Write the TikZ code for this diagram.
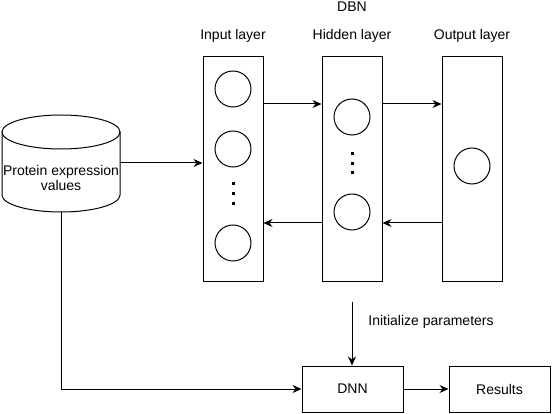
\documentclass[tikz,border=0pt]{standalone}
\usepackage{fontspec}
\setmainfont{Liberation Sans}
\usetikzlibrary{arrows.meta}
\begin{document}
\begin{tikzpicture}[x=1pt,y=-1pt,
  every node/.style={font=\fontsize{14}{16}\selectfont},
  line/.style={line width=1pt, draw=black},
  arr/.style={line width=1pt, -{Stealth[length=9pt,width=8pt,inset=3pt]}},
  layer/.style={line, rectangle, minimum width=60pt, minimum height=225pt, inner sep=0pt},
  unit/.style={line, circle, minimum size=36pt, inner sep=0pt},
  dot/.style={fill=black, minimum size=3pt, inner sep=0pt, rectangle},
  box/.style={line, rectangle, minimum width=101pt, minimum height=46pt, inner sep=0pt}]
\useasboundingbox (0,0) rectangle (552,414);
% cylinder
\draw[line] (2,132) -- (2,195) arc[start angle=180, end angle=360, x radius=59pt, y radius=17pt] -- (120,132);
\draw[line] (61,132) ellipse [x radius=59pt, y radius=17pt];
\node[align=center] (db) at (61,178) {Protein expression\\[-1pt]values};
\coordinate (dbR) at (120,163);
\coordinate (dbB) at (61,212);
% layers
\node[layer] (inL) at (233,169.5) {};
\node[layer] (hidL) at (352,169.5) {};
\node[layer] (outL) at (472,169.5) {};
\node (dbn) at (352,7) {DBN};
\node (tin) at (233,36) {Input layer};
\node (thid) at (352,36) {Hidden layer};
\node (tout) at (472,36) {Output layer};
% units
\node[unit] (i1) at (233,89) {};
\node[unit] (i2) at (233,149) {};
\node[unit] (i3) at (233,243) {};
\node[dot] (id1) at (233,184) {};
\node[dot] (id2) at (233,194) {};
\node[dot] (id3) at (233,204) {};
\node[unit] (h1) at (352,117) {};
\node[unit] (h2) at (352,212) {};
\node[dot] (hd1) at (352,154) {};
\node[dot] (hd2) at (352,163.5) {};
\node[dot] (hd3) at (352,173) {};
\node[unit] (o1) at (472,166) {};
% arrows between layers
\draw[arr] (dbR) -- (dbR -| inL.west);
\draw[arr] (inL.east |- 0,104) -- (hidL.west |- 0,104);
\draw[arr] (hidL.east |- 0,104) -- (outL.west |- 0,104);
\draw[arr] (outL.west |- 0,223) -- (hidL.east |- 0,223);
\draw[arr] (hidL.west |- 0,223) -- (inL.east |- 0,223);
% DNN part
\node[box] (dnn) at (352.5,389) {DNN};
\node[box] (res) at (499.5,389) {Results};
\coordinate (init) at (352,302);
\node (tinit) at (431,322) {Initialize parameters};
\draw[arr] (init) -- (init |- dnn.north);
\draw[arr] (dnn) -- (res);
\draw[arr] (dbB) |- (dnn.west);
\end{tikzpicture}
\end{document}
